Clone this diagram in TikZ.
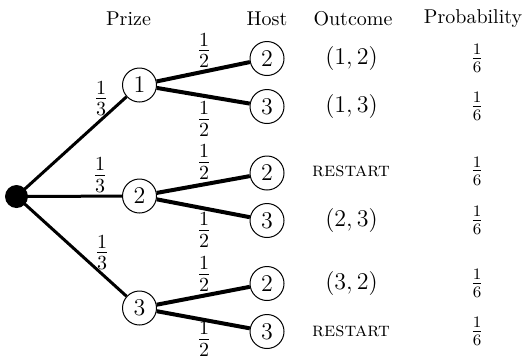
\documentclass[tikz,border=0pt]{standalone}
\begin{document}
\begin{tikzpicture}[x=0.5pt,y=-0.5pt,
  st/.style={circle,draw,line width=0.5pt,minimum size=17pt,inner sep=0pt,font=\large,fill=white},
  rootdot/.style={circle,fill=black,minimum size=11.5pt,inner sep=0pt},
  e1/.style={line width=1.5pt},
  e2/.style={line width=2pt},
  lab/.style={inner sep=0pt,font=\Large},
  hd/.style={inner sep=0pt},
  oc/.style={inner sep=0pt,font=\large},
  pr/.style={inner sep=0pt,font=\large}]
\useasboundingbox (0,0) rectangle (528,355);
% headers
\node[hd] (hprize) at (128.5,19) {Prize};
\node[hd] (hhost) at (267,19) {Host};
\node[hd] (hout) at (353,19) {Outcome};
\node[hd] (hprob) at (473,19) {Probability};
% nodes
\coordinate (rc) at (16.5,196.5);
\node[st] (p1) at (139.5,85) {1};
\node[st] (p2) at (139.5,196) {2};
\node[st] (p3) at (139.5,308) {3};
\node[st] (h12) at (267,58.5) {2};
\node[st] (h13) at (267,106.5) {3};
\node[st] (h22) at (267,173) {2};
\node[st] (h23) at (267,220.5) {3};
\node[st] (h32) at (267,283.5) {2};
\node[st] (h33) at (267,331.5) {3};
% edges
\draw[e1] (rc) -- (p1);
\draw[e1] (rc) -- (p2);
\draw[e1] (rc) -- (p3);
\node[rootdot] (r) at (rc) {};
\draw[e2] (p1) -- (h12);
\draw[e2] (p1) -- (h13);
\draw[e2] (p2) -- (h22);
\draw[e2] (p2) -- (h23);
\draw[e2] (p3) -- (h32);
\draw[e2] (p3) -- (h33);
% edge labels
\node[lab] (l1) at (101,98.5) {$\frac{1}{3}$};
\node[lab] (l2) at (100,175) {$\frac{1}{3}$};
\node[lab] (l3) at (102,252.5) {$\frac{1}{3}$};
\node[lab] (l11) at (204,50.5) {$\frac{1}{2}$};
\node[lab] (l12) at (204,119) {$\frac{1}{2}$};
\node[lab] (l21) at (204,162) {$\frac{1}{2}$};
\node[lab] (l22) at (204,230) {$\frac{1}{2}$};
\node[lab] (l31) at (204,274) {$\frac{1}{2}$};
\node[lab] (l32) at (204,339) {$\frac{1}{2}$};
% outcomes
\node[oc] (o1) at (351.5,58.5) {$(1,2)$};
\node[oc] (o2) at (351.5,106.5) {$(1,3)$};
\node[hd] (o3) at (351,171) {\textsc{restart}};
\node[oc] (o4) at (351.5,220.5) {$(2,3)$};
\node[oc] (o5) at (351.5,283.5) {$(3,2)$};
\node[hd] (o6) at (351,331.5) {\textsc{restart}};
% probabilities
\node[pr] (q1) at (477,58.5) {$\frac{1}{6}$};
\node[pr] (q2) at (477,106.5) {$\frac{1}{6}$};
\node[pr] (q3) at (477,171) {$\frac{1}{6}$};
\node[pr] (q4) at (477,220.5) {$\frac{1}{6}$};
\node[pr] (q5) at (477,283.5) {$\frac{1}{6}$};
\node[pr] (q6) at (477,331.5) {$\frac{1}{6}$};
\end{tikzpicture}
\end{document}
